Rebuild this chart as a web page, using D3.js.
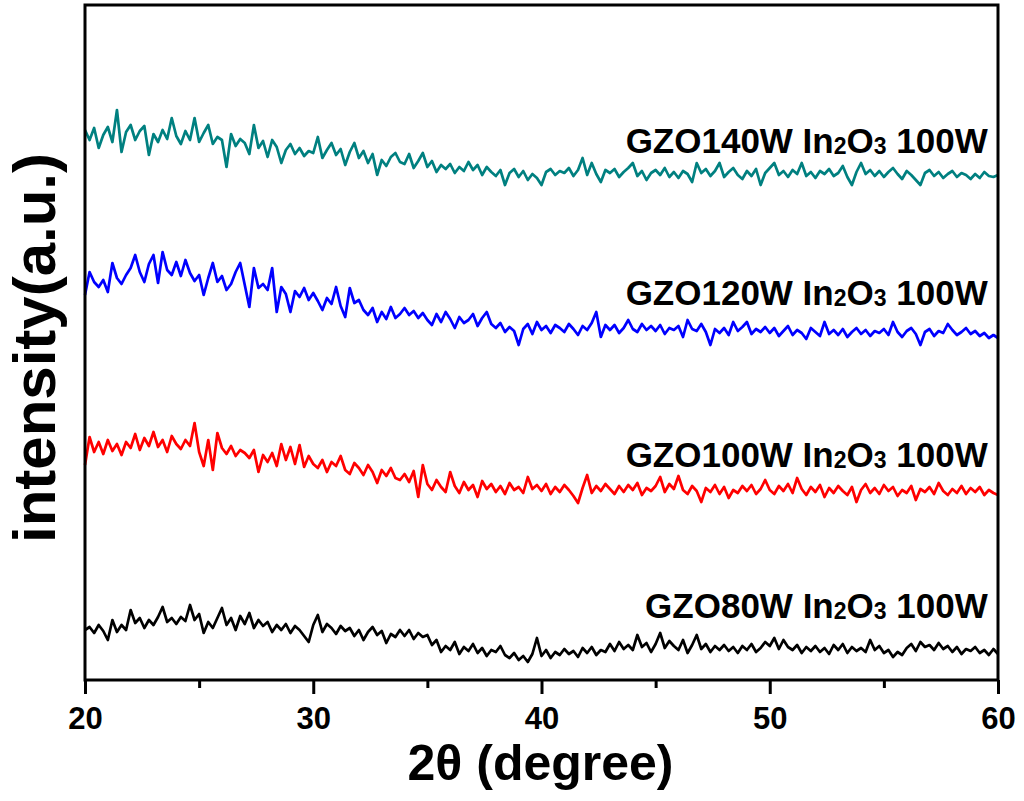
<!DOCTYPE html>
<html>
<head>
<meta charset="utf-8">
<script src="https://cdn.jsdelivr.net/npm/d3@7"></script>
<style>
  body { margin: 0; background: #fff; }
  svg text { font-family: "Liberation Sans", Arial, sans-serif; font-weight: bold; }
</style>
</head>
<body>
<svg id="chart" width="1024" height="801"></svg>
<script>
// 2theta sampling grid, 0.2 degree steps
const twoTheta = d3.range(0, 201).map(i => 20 + i * 0.2)
const xTicks = [20, 30, 40, 50, 60]
const xMinorTicks = [25, 35, 45, 55]

const sampleNames = ['GZO80W', 'GZO100W', 'GZO120W', 'GZO140W']
const sampleColors = ['#000000', '#ff0000', '#0000ff', '#008080']

// intensities (a.u., stacked as in the figure)
const gzo80 = [
  50, 53, 47, 55, 49, 40, 60, 48, 55, 50, 70, 57, 62, 52, 60, 55, 63, 73, 58, 62,
  56, 63, 59, 75, 60, 66, 47, 58, 52, 62, 72, 55, 62, 50, 64, 56, 67, 52, 60, 54,
  58, 48, 55, 50, 56, 47, 54, 50, 44, 38, 55, 65, 48, 56, 52, 46, 54, 49, 52, 44,
  50, 40, 48, 53, 45, 49, 37, 46, 43, 50, 44, 50, 41, 47, 43, 45, 35, 40, 28, 34,
  30, 38, 26, 33, 29, 36, 27, 32, 24, 30, 28, 34, 25, 22, 27, 20, 24, 18, 26, 42,
  24, 30, 22, 28, 25, 31, 26, 29, 23, 32, 27, 33, 25, 30, 28, 36, 29, 38, 31, 35,
  30, 45, 33, 37, 28, 36, 47, 32, 39, 34, 30, 40, 27, 35, 45, 31, 36, 28, 34, 30,
  35, 29, 33, 27, 34, 30, 36, 28, 32, 38, 34, 42, 31, 40, 33, 30, 35, 27, 33, 29,
  34, 28, 32, 26, 35, 30, 36, 27, 33, 29, 32, 28, 40, 30, 34, 27, 30, 23, 28, 25,
  32, 36, 29, 38, 33, 35, 30, 37, 31, 34, 28, 33, 26, 31, 29, 33, 27, 30, 25, 31,
  26
]
const gzo100 = [
  215, 243, 228, 238, 226, 240, 229, 236, 225, 238, 232, 246, 230, 242, 234, 248, 233, 240, 228, 244,
  236, 231, 240, 234, 257, 228, 214, 240, 210, 247, 232, 226, 234, 224, 230, 227, 222, 230, 208, 225,
  218, 227, 214, 236, 220, 233, 216, 235, 213, 224, 216, 212, 220, 208, 218, 214, 224, 210, 206, 217,
  212, 205, 215, 208, 197, 210, 204, 212, 202, 200, 206, 198, 209, 183, 215, 196, 190, 200, 193, 188,
  208, 194, 187, 198, 190, 195, 183, 199, 191, 196, 188, 194, 186, 197, 190, 193, 187, 203, 191, 195,
  189, 196, 186, 193, 188, 195, 190, 184, 177, 192, 205, 187, 194, 189, 196, 191, 186, 194, 188, 195,
  190, 197, 185, 192, 189, 194, 203, 188, 196, 191, 204, 190, 186, 194, 189, 178, 192, 188, 195, 186,
  193, 182, 190, 187, 194, 189, 195, 186, 191, 200, 190, 186, 194, 189, 196, 187, 202, 191, 185, 193,
  188, 195, 183, 192, 187, 194, 189, 185, 193, 178, 190, 196, 187, 192, 186, 195, 189, 193, 184, 190,
  187, 194, 180, 191, 188, 193, 186, 197, 189, 185, 191, 187, 194, 186, 192, 188, 193, 185, 190, 187,
  185
]
const gzo120 = [
  385, 408, 398, 393, 400, 388, 417, 402, 396, 405, 412, 425, 408, 398, 416, 425, 397, 428, 410, 405,
  418, 404, 420, 407, 399, 405, 385, 402, 417, 398, 404, 390, 396, 408, 417, 395, 373, 412, 392, 396,
  390, 412, 368, 393, 386, 368, 389, 383, 392, 380, 387, 379, 370, 382, 376, 393, 374, 363, 392, 377,
  380, 370, 365, 372, 358, 368, 361, 373, 362, 366, 372, 365, 369, 362, 367, 360, 355, 366, 358, 368,
  361, 352, 363, 357, 360, 366, 354, 362, 368, 356, 352, 357, 348, 353, 349, 335, 351, 356, 346, 358,
  350, 354, 347, 355, 352, 348, 356, 351, 345, 354, 350, 357, 368, 343, 355, 350, 355, 347, 352, 360,
  351, 348, 356, 350, 354, 349, 355, 346, 352, 350, 354, 343, 360, 351, 349, 356, 348, 335, 351, 347,
  352, 345, 358, 349, 353, 358, 346, 351, 348, 353, 347, 352, 344, 349, 354, 345, 350, 347, 341, 352,
  348, 344, 358, 346, 350, 345, 351, 343, 348, 352, 346, 350, 344, 349, 347, 351, 345, 358, 348, 343,
  349, 352, 346, 335, 348, 351, 344, 349, 347, 356, 350, 345, 348, 352, 346, 349, 344, 347, 342, 345,
  342
]
const gzo140 = [
  550, 540, 552, 532, 545, 553, 538, 570, 528, 548, 555, 540, 549, 554, 525, 546, 538, 550, 541, 562,
  544, 536, 549, 540, 562, 538, 547, 555, 536, 543, 540, 513, 546, 534, 541, 537, 526, 555, 532, 539,
  523, 540, 533, 517, 530, 536, 526, 532, 524, 529, 527, 543, 522, 530, 537, 525, 531, 515, 528, 537,
  522, 529, 517, 526, 505, 520, 514, 523, 527, 518, 516, 526, 512, 519, 527, 513, 519, 508, 515, 511,
  516, 507, 513, 509, 518, 510, 515, 505, 513, 508, 504, 510, 495, 507, 511, 503, 509, 500, 506, 502,
  495, 508, 511, 505, 509, 507, 512, 504, 510, 522, 505, 517, 506, 498, 510, 507, 511, 503, 508, 512,
  517, 504, 509, 500, 507, 510, 505, 512, 503, 508, 502, 509, 506, 498, 517, 507, 511, 504, 509, 517,
  503, 508, 512, 505, 501, 509, 504, 511, 495, 507, 512, 517, 505, 509, 503, 510, 506, 517, 504, 508,
  502, 509, 506, 511, 504, 507, 514, 503, 495, 508, 517, 506, 510, 504, 509, 503, 508, 512, 506, 501,
  509, 505, 500, 495, 507, 510, 504, 508, 502, 506, 509, 503, 507, 505, 501, 506, 502, 508, 504, 503,
  505
]
const seriesValues = [gzo80, gzo100, gzo120, gzo140]

const margin = {left: 85, right: 26, top: 5, bottom: 121}
const width = 1024 - margin.left - margin.right
const height = 801 - margin.top - margin.bottom

const svg = d3.select('#chart')
const g = svg.append('g').attr('transform', `translate(${margin.left},${margin.top})`)

const x = d3.scaleLinear().domain([20, 60]).range([0, width])
const y = d3.scaleLinear().domain([0, 675]).range([height, 0])

const line = d3.line()
    .x((d, i) => x(twoTheta[i]))
    .y(d => y(d))

g.selectAll('.trace')
    .data(seriesValues)
    .join('path')
    .attr('class', 'trace')
    .attr('d', d => line(d))
    .attr('fill', 'none')
    .attr('stroke', (d, i) => sampleColors[i])
    .attr('stroke-width', 2.7)
    .attr('stroke-linejoin', 'round')

// sample labels, right aligned above each trace
const labelY = [62, 213, 375, 527]
const labels = g.selectAll('.sample-label')
    .data(sampleNames)
    .join('text')
    .attr('class', 'sample-label')
    .attr('x', x(59.55))
    .attr('y', (d, i) => y(labelY[i]))
    .attr('text-anchor', 'end')
    .attr('font-size', 35)
labels.append('tspan').text(d => d + ' In')
labels.append('tspan').attr('font-size', 23).attr('dy', 1).text('2')
labels.append('tspan').attr('dy', -1).text('O')
labels.append('tspan').attr('font-size', 23).attr('dy', 1).text('3')
labels.append('tspan').attr('dy', -1).text(' 100W')

// bottom axis, major + minor ticks
const xAxis = g.append('g')
    .attr('transform', `translate(0,${height})`)
    .call(d3.axisBottom(x).tickValues(xTicks).tickSize(14).tickPadding(13).tickFormat(d3.format('d')))
xAxis.select('.domain').remove()
xAxis.selectAll('line').attr('stroke-width', 3)
xAxis.selectAll('text').attr('font-size', 31).attr('fill', '#000')

const xMinor = g.append('g')
    .attr('transform', `translate(0,${height})`)
    .call(d3.axisBottom(x).tickValues(xMinorTicks).tickSize(8).tickFormat(''))
xMinor.select('.domain').remove()
xMinor.selectAll('line').attr('stroke-width', 3)

// frame
g.append('rect')
    .attr('x', 0).attr('y', 0)
    .attr('width', width).attr('height', height)
    .attr('fill', 'none')
    .attr('stroke', '#000')
    .attr('stroke-width', 3)

svg.append('text')
    .attr('x', margin.left + width / 2 - 1)
    .attr('y', 780)
    .attr('text-anchor', 'middle')
    .attr('font-size', 50)
    .text('2θ (degree)')

svg.append('text')
    .attr('transform', 'translate(55,348) rotate(-90)')
    .attr('text-anchor', 'middle')
    .attr('font-size', 60)
    .text('intensity(a.u.)')
</script>
</body>
</html>
